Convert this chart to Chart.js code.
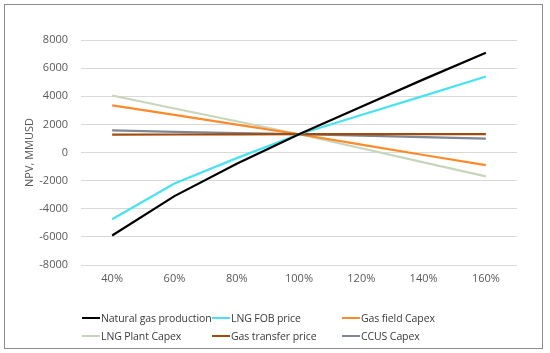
<!DOCTYPE html>
<html>
<head>
<meta charset="utf-8">
<script src="https://cdn.jsdelivr.net/npm/chart.js@4/dist/chart.umd.min.js"></script>
<style>
    html, body { margin: 0; padding: 0; background: #fff; }
    #wrap { position: relative; width: 550px; height: 353px; }
    #frame { position: absolute; left: 4px; top: 4px; width: 537px; height: 343px; border: 1px solid #8c8c8c; box-sizing: content-box; pointer-events: none; }
    #legend { position: absolute; left: 82px; top: 309px; width: 440px; display: grid; grid-template-columns: 130px 130px 170px; row-gap: 1px;
        font-family: "Open Sans", "Noto Sans", sans-serif; font-size: 10.5px; letter-spacing: -0.1px; color: #3a3a3a; }
    .legend-item { display: flex; align-items: center; height: 17px; white-space: nowrap; }
    .legend-line { flex: 0 0 18px; width: 18px; height: 2px; margin-right: 1px; }
</style>
</head>
<body>
<div id="wrap">
    <canvas id="npvChart" width="550" height="353"></canvas>
    <div id="frame"></div>
    <div id="legend"></div>
</div>
<script>
// Sensitivity of NPV to each parameter
const categories = ['40%', '60%', '80%', '100%', '120%', '140%', '160%'];

const naturalGasProduction = [-5900, -3100, -800, 1300, 3250, 5200, 7100];
const lngFobPrice = [-4750, -2200, -400, 1300, 2670, 4030, 5400];
const gasFieldCapex = [3350, 2670, 1980, 1300, 560, -180, -900];
const lngPlantCapex = [4050, 3130, 2220, 1300, 300, -700, -1700];
const gasTransferPrice = [1270, 1280, 1290, 1300, 1300, 1300, 1300];
const ccusCapex = [1570, 1470, 1380, 1300, 1200, 1090, 980];

const seriesNames = ['Natural gas production', 'LNG FOB price', 'Gas field Capex', 'LNG Plant Capex', 'Gas transfer price', 'CCUS Capex'];
const seriesColors = ['#000000', '#48e2f2', '#ff8a2a', '#c7d6ba', '#a04c0e', '#7d8796'];

const FONT = '"Open Sans", "Noto Sans", sans-serif';

const seriesValues = [naturalGasProduction, lngFobPrice, gasFieldCapex, lngPlantCapex, gasTransferPrice, ccusCapex];

// draw order: later series on top
const drawOrder = [3, 2, 5, 4, 1, 0];

const datasets = seriesNames.map((name, i) => ({
    label: name,
    data: seriesValues[i],
    borderColor: seriesColors[i],
    backgroundColor: seriesColors[i],
    borderWidth: 2.2,
    pointRadius: 0,
    tension: 0,
    fill: false,
    order: 6 - drawOrder.indexOf(i)
}));

const ctx = document.getElementById('npvChart').getContext('2d');
const chart = new Chart(ctx, {
    type: 'line',
    data: { labels: categories, datasets: datasets },
    options: {
        responsive: false,
        animation: false,
        layout: { padding: { left: 0, right: 33, top: 40, bottom: 0 } },
        plugins: {
            legend: { display: false },
            tooltip: { enabled: false }
        },
        scales: {
            x: {
                offset: true,
                grid: { display: false, drawTicks: false },
                border: { display: false },
                ticks: { color: '#595959', font: { family: FONT, size: 11 }, padding: 7, maxRotation: 0 },
                afterFit: (scale) => { scale.height = 88; }
            },
            y: {
                min: -8000,
                max: 8000,
                grid: { color: '#d9d9d9', drawTicks: false, lineWidth: 1 },
                border: { display: false },
                ticks: {
                    stepSize: 2000,
                    color: '#595959',
                    font: { family: FONT, size: 11 },
                    padding: 13,
                    callback: (value) => String(value)
                },
                title: {
                    display: true,
                    text: 'NPV, MMUSD',
                    color: '#595959',
                    font: { family: FONT, size: 11 },
                    padding: { top: 23, bottom: 0 }
                },
                afterFit: (scale) => { scale.width = 81; }
            }
        }
    }
});

// legend laid out in three columns like the original
const legendEl = document.getElementById('legend');
legendEl.innerHTML = datasets.map(ds => `
    <div class="legend-item">
        <span class="legend-line" style="background:${ds.borderColor}"></span>
        <span>${ds.label}</span>
    </div>
`).join('');
</script>
</body>
</html>
